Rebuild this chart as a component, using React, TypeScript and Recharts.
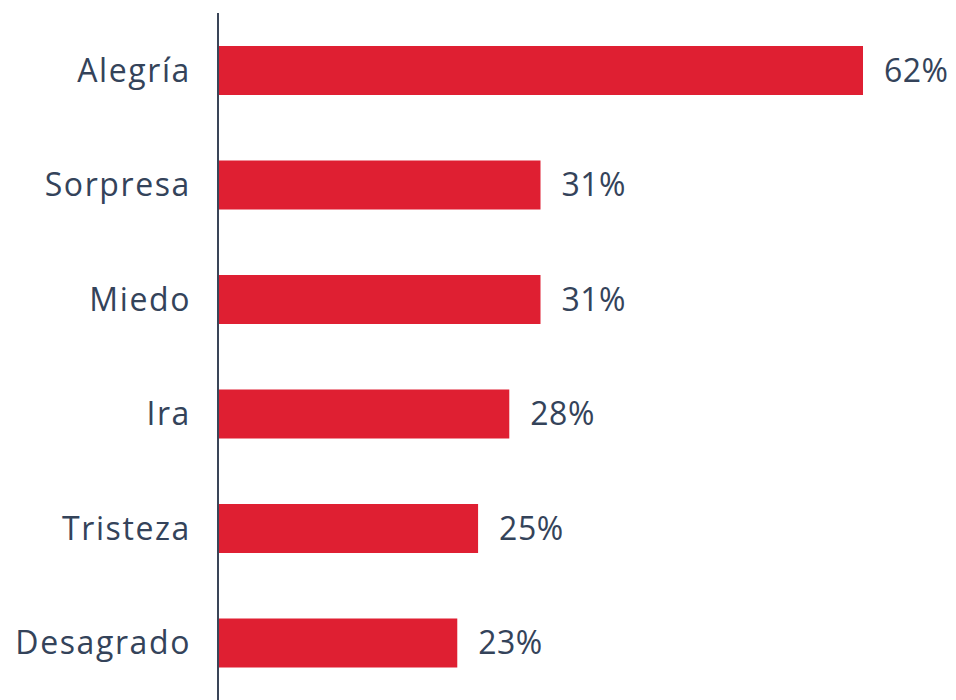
import React from 'react';
import { BarChart, Bar, XAxis, YAxis, LabelList } from 'recharts';

const emotions = ['Alegría', 'Sorpresa', 'Miedo', 'Ira', 'Tristeza', 'Desagrado'];
const shares = [62, 31, 31, 28, 25, 23];

const data = emotions.map((name, i) => ({ name, value: shares[i] }));

const textColor = '#34435A';
const font = '"Open Sans", sans-serif';

export default function App() {
  return (
    <div style={{ position: 'absolute', left: 0, top: 0, background: '#fff' }}>
      <BarChart
        width={956}
        height={700}
        data={data}
        layout="vertical"
        margin={{ top: 13, right: 93, bottom: 0, left: 0 }}
        barCategoryGap={0}
      >
        <XAxis type="number" domain={[0, 62]} hide />
        <YAxis
          type="category"
          dataKey="name"
          width={218}
          interval={0}
          tickLine={false}
          tickSize={0}
          tickMargin={27}
          axisLine={{ stroke: '#3A4558', strokeWidth: 2 }}
          tick={{ fill: textColor, fontSize: 32, fontFamily: font, letterSpacing: 1.6 }}
        />
        <Bar dataKey="value" fill="#DF1F32" barSize={49} isAnimationActive={false}>
          <LabelList
            dataKey="value"
            position="right"
            offset={21}
            formatter={(v: number) => `${v}%`}
            style={{ fill: textColor, fontSize: 32, fontFamily: font, letterSpacing: 0.5 }}
          />
        </Bar>
      </BarChart>
    </div>
  );
}
